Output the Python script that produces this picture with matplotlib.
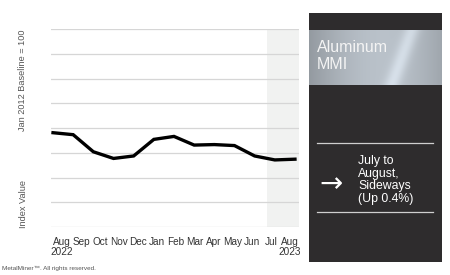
import numpy as np
import matplotlib
matplotlib.use("Agg")
import matplotlib.pyplot as plt
from matplotlib.lines import Line2D

months = ["Aug\n2022", "Sep", "Oct", "Nov", "Dec", "Jan", "Feb", "Mar",
          "Apr", "May", "Jun", "Jul", "Aug\n2023"]
values = [98.1, 97.3, 90.4, 87.7, 88.7, 95.4, 96.6, 93.1, 93.3, 92.9, 88.7, 87.1, 87.4]
title_text = "Aluminum\nMMI"
trend_text = "July to\nAugust,\nSideways\n(Up 0.4%)"
ylabel_top = "Jan 2012 Baseline = 100"
ylabel_bottom = "Index Value"
footer = "MetalMiner\u2122. All rights reserved."

plt.rcParams['font.family'] = ['Liberation Sans', 'DejaVu Sans']

W, H = 450, 275
fig = plt.figure(figsize=(W / 100, H / 100), dpi=100)
fig.patch.set_facecolor("white")

def fx(px):
    return px / W

def fy(py):
    return 1 - py / H

ax = fig.add_axes([fx(51), fy(227), fx(248), 198 / H])
x = np.arange(len(values))
ax.set_xlim(-0.1, 12.2)
ax.set_ylim(60, 140)
ax.axvspan(10.6, 12.2, color="#f1f2f1", zorder=0, lw=0)
for g in np.arange(60, 141, 10):
    ax.axhline(g, color="#d6d6d6", lw=0.9, zorder=1)
ax.plot(x, values, color="black", lw=2.4, solid_joinstyle="miter", zorder=3)
for s in ax.spines.values():
    s.set_visible(False)
ax.set_yticks([])
ax.set_xticks(np.linspace(0.45, 11.75, len(months)))
ax.set_xticklabels(months, fontsize=7.2, color="#333333", linespacing=1.0)
ax.tick_params(axis="x", length=0, pad=7)
for lbl in ax.get_xticklabels():
    lbl.set_verticalalignment("top")

fig.text(fx(23), fy(80), ylabel_top, rotation=90, ha="center", va="center",
         fontsize=6.6, color="#555555")
fig.text(fx(24), fy(204), ylabel_bottom, rotation=90, ha="center", va="center",
         fontsize=6.6, color="#555555")
fig.text(fx(2), fy(268), footer, ha="left", va="center", fontsize=4.6, color="#555555")

# Right dark panel
panel = fig.add_axes([fx(309), fy(262), fx(133), (262 - 13) / H], zorder=-1)
panel.set_facecolor("#2e2c2d")
panel.set_xticks([])
panel.set_yticks([])
for s in panel.spines.values():
    s.set_visible(False)

# Silver gradient band
gax = fig.add_axes([fx(309), fy(85), fx(133), (85 - 30) / H], zorder=1)
gx = np.linspace(0, 1, 300)
gy = np.linspace(0, 1, 60)
GX, GY = np.meshgrid(gx, gy)
base = 0.63 + 0.16 * np.sin(np.pi * np.clip(GX * 0.9, 0, 1))
streak = 0.13 * np.exp(-((GX - 0.70 + 0.15 * (GY - 0.5)) / 0.06) ** 2)
lum = np.clip(base + streak, 0, 1)
img = np.dstack([lum * 0.92, lum * 0.96, lum * 1.0])
gax.imshow(np.clip(img, 0, 1), aspect="auto", extent=[0, 1, 0, 1])
gax.axis("off")
fig.text(fx(317), fy(56), title_text, ha="left", va="center", fontsize=11.5,
         color="#f4f4f4", linespacing=1.1, zorder=5)

# Separator lines
for yy in (143, 212):
    fig.add_artist(Line2D([fx(317), fx(433)], [fy(yy), fy(yy)],
                          transform=fig.transFigure, color="#cfcfcf", lw=0.9))
fig.text(fx(331), fy(184), "\u2192", ha="center", va="center", fontsize=20,
         color="white", family=["DejaVu Sans"])
fig.text(fx(358), fy(180), trend_text, ha="left", va="center", fontsize=8.8,
         color="white", linespacing=1.08)

fig.savefig("out.png", dpi=100)
